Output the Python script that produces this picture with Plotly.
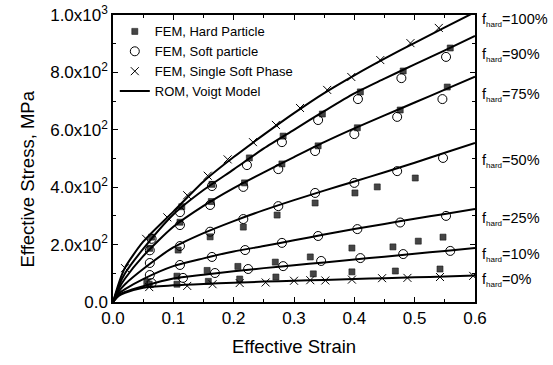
import plotly.graph_objects as go

# ---------------- data ----------------
strain_rom = [0, 0.01, 0.02, 0.05, 0.1, 0.15, 0.2, 0.25, 0.3, 0.35, 0.4, 0.45, 0.5, 0.55, 0.6]
rom_100 = [0, 68, 120, 210, 315, 420, 505, 583, 658, 728, 790, 848, 903, 957, 1010]
rom_90 = [0, 58, 100, 185, 305, 390, 462, 535, 600, 665, 727, 778, 828, 877, 927]
rom_75 = [0, 48, 82, 160, 262, 335, 397, 452, 505, 557, 605, 650, 695, 740, 785]
rom_50 = [0, 38, 62, 115, 190, 240, 282, 320, 355, 388, 420, 452, 485, 520, 554]
rom_25 = [0, 30, 45, 80, 125, 152, 176, 195, 215, 235, 254, 272, 290, 307, 324]
rom_10 = [0, 25, 35, 55, 82, 95, 107, 118, 128, 138, 148, 158, 168, 178, 188]
rom_0 = [0, 22, 32, 50, 58, 63, 67, 71, 74, 77, 80, 83, 86, 89, 92]
rom_labels = ["100%", "90%", "75%", "50%", "25%", "10%", "0%"]
label_stress = [983, 861, 721, 491, 289, 164, 77]

# FEM, Single Soft Phase (crosses)
x100_x = [0.02, 0.055, 0.09, 0.123, 0.157, 0.19, 0.232, 0.27, 0.31, 0.355, 0.395, 0.443, 0.493, 0.54]
x100_y = [118, 220, 295, 372, 440, 497, 557, 617, 676, 739, 784, 843, 902, 955]
x0_x = [0.06, 0.123, 0.165, 0.21, 0.253, 0.3, 0.327, 0.352, 0.396, 0.446, 0.488, 0.542, 0.597]
x0_y = [52, 56, 62, 66, 68, 74, 76, 75, 78, 83, 84, 87, 91]

# FEM, Soft particle (open circles)
c90_x = [0.064, 0.111, 0.164, 0.222, 0.28, 0.34, 0.406, 0.478, 0.552]
c90_y = [220, 313, 404, 477, 557, 634, 707, 780, 854]
c75_x = [0.061, 0.111, 0.161, 0.216, 0.274, 0.335, 0.4, 0.471, 0.546]
c75_y = [180, 268, 338, 401, 463, 526, 585, 645, 707]
c50_x = [0.061, 0.111, 0.161, 0.216, 0.274, 0.335, 0.4, 0.471, 0.547]
c50_y = [136, 195, 245, 289, 334, 380, 415, 456, 502]
c25_x = [0.061, 0.111, 0.164, 0.219, 0.28, 0.34, 0.405, 0.476, 0.552]
c25_y = [94, 129, 157, 181, 206, 230, 254, 277, 300]
c10_x = [0.064, 0.116, 0.169, 0.224, 0.282, 0.345, 0.41, 0.481, 0.559]
c10_y = [66, 84, 101, 115, 125, 143, 153, 167, 178]

# FEM, Hard Particle (filled squares)
s90_x = [0.064, 0.114, 0.164, 0.226, 0.282, 0.347, 0.41, 0.481, 0.559]
s90_y = [226, 332, 410, 502, 578, 655, 732, 805, 885]
s75_x = [0.061, 0.111, 0.163, 0.218, 0.28, 0.34, 0.405, 0.476, 0.554]
s75_y = [187, 278, 350, 415, 481, 544, 607, 669, 749]
s50_x = [0.108, 0.161, 0.216, 0.272, 0.335, 0.401, 0.438, 0.501]
s50_y = [181, 227, 261, 303, 345, 380, 401, 432]
s10_x = [0.056, 0.106, 0.156, 0.207, 0.269, 0.327, 0.396, 0.464, 0.506, 0.547]
s10_y = [70, 90, 110, 124, 139, 157, 188, 192, 212, 226]
s0_x = [0.06, 0.106, 0.158, 0.21, 0.27, 0.332, 0.396, 0.468, 0.542]
s0_y = [62, 62, 72, 80, 87, 98, 105, 108, 115]

x_ticks = [0, 0.1, 0.2, 0.3, 0.4, 0.5, 0.6]
y_ticks = [0, 200, 400, 600, 800, 1000]
y_ticktext = ["0.0", "2.0x10<sup>2</sup>", "4.0x10<sup>2</sup>", "6.0x10<sup>2</sup>",
              "8.0x10<sup>2</sup>", "1.0x10<sup>3</sup>"]

# ---------------- figure ----------------
FONT = "Liberation Sans, Arial, sans-serif"
fig = go.Figure()

sq_style = dict(symbol="square", size=6, color="#454545", line=dict(color="#1a1a1a", width=0.6))
ci_style = dict(symbol="circle-open", size=9, color="black", line=dict(width=1))
x_style = dict(symbol="x-thin-open", size=8, color="black", line=dict(width=1, color="black"))

sq_sets = [(s90_x, s90_y), (s75_x, s75_y), (s50_x, s50_y), (s10_x, s10_y), (s0_x, s0_y)]
ci_sets = [(c90_x, c90_y), (c75_x, c75_y), (c50_x, c50_y), (c25_x, c25_y), (c10_x, c10_y)]
x_sets = [(x100_x, x100_y), (x0_x, x0_y)]
rom_sets = [rom_100, rom_90, rom_75, rom_50, rom_25, rom_10, rom_0]

for i, (xs, ys) in enumerate(sq_sets):
    fig.add_trace(go.Scatter(x=xs, y=ys, mode="markers", marker=sq_style,
                             name="FEM, Hard Particle", legendgroup="sq",
                             showlegend=(i == 0)))
for i, (xs, ys) in enumerate(ci_sets):
    fig.add_trace(go.Scatter(x=xs, y=ys, mode="markers", marker=ci_style,
                             name="FEM, Soft particle", legendgroup="ci",
                             showlegend=(i == 0)))
for i, (xs, ys) in enumerate(x_sets):
    fig.add_trace(go.Scatter(x=xs, y=ys, mode="markers", marker=x_style,
                             name="FEM, Single Soft Phase", legendgroup="x",
                             showlegend=(i == 0)))
for i, ys in enumerate(rom_sets):
    fig.add_trace(go.Scatter(x=strain_rom, y=ys, mode="lines",
                             line=dict(color="black", width=2, shape="spline", smoothing=0.7),
                             name="ROM, Voigt Model", legendgroup="rom",
                             showlegend=(i == 0)))

axis_common = dict(showline=True, linecolor="black", linewidth=1.5, mirror="allticks",
                   ticks="inside", ticklen=5, tickwidth=1, tickcolor="black",
                   showgrid=False, zeroline=False, automargin=False,
                   tickfont=dict(family=FONT, size=17, color="black"))

fig.update_xaxes(range=[0, 0.6], tickvals=x_ticks, tickformat=".1f",
                 minor=dict(ticks="inside", ticklen=3, dtick=0.05, tickcolor="black"),
                 **axis_common)
fig.update_yaxes(range=[0, 1000], tickvals=y_ticks, ticktext=y_ticktext,
                 minor=dict(ticks="inside", ticklen=3, dtick=100, tickcolor="black"),
                 **axis_common)

annotations = []
for lab, ys in zip(rom_labels, label_stress):
    annotations.append(dict(
        x=1.014, xref="paper", y=ys, yref="y", xanchor="left", yanchor="middle",
        text="f<sub><span style='font-size:8px'>hard</span></sub>=" + lab,
        showarrow=False, font=dict(family=FONT, size=14.5, color="black")))
annotations.append(dict(x=0.5, xref="paper", y=-0.155, yref="paper",
                        xanchor="center", yanchor="middle", text="Effective Strain",
                        showarrow=False, font=dict(family=FONT, size=18.5, color="black")))
annotations.append(dict(x=-0.235, xref="paper", y=0.43, yref="paper",
                        xanchor="center", yanchor="middle", text="Effective Stress, MPa",
                        textangle=-90, showarrow=False,
                        font=dict(family=FONT, size=18.5, color="black")))

fig.update_layout(
    width=553, height=365,
    margin=dict(l=113, r=78, t=15, b=63, autoexpand=False),
    paper_bgcolor="white", plot_bgcolor="white",
    font=dict(family=FONT, color="black"),
    showlegend=True,
    legend=dict(x=0.005, y=0.995, xanchor="left", yanchor="top",
                bgcolor="rgba(0,0,0,0)", borderwidth=0,
                font=dict(family=FONT, size=13, color="black"),
                tracegroupgap=0, itemwidth=30),
    annotations=annotations,
)

fig.write_html("out.html",
               config={"displayModeBar": False},
               post_script="document.body.style.margin='0';document.body.style.overflow='hidden';")
